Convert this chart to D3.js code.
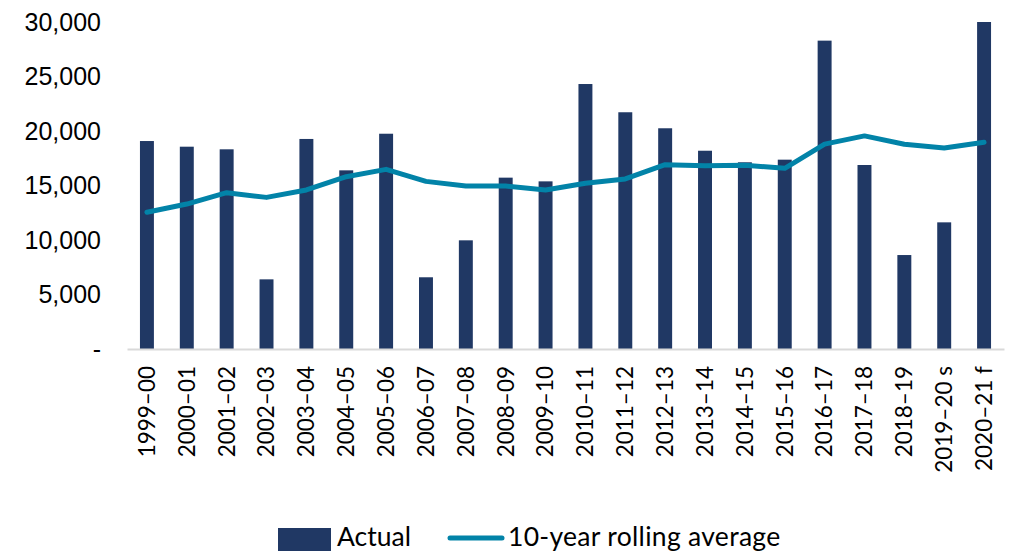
<!DOCTYPE html>
<html>
<head>
<meta charset="utf-8">
<script src="https://cdn.jsdelivr.net/npm/d3@7"></script>
<style>
  html, body { margin: 0; padding: 0; background: #fff; }
  svg { display: block; }
</style>
</head>
<body>
<svg id="chart" width="1012" height="551"></svg>
<script>
// Chart data
const categories = ['1999–00', '2000–01', '2001–02', '2002–03', '2003–04', '2004–05',
  '2005–06', '2006–07', '2007–08', '2008–09', '2009–10', '2010–11', '2011–12',
  '2012–13', '2013–14', '2014–15', '2015–16', '2016–17', '2017–18', '2018–19',
  '2019–20 s', '2020–21 f'];
const actual = [19080, 18560, 18320, 6390, 19270, 16390, 19750, 6580, 9970, 15720,
  15380, 24310, 21720, 20250, 18190, 17130, 17370, 28290, 16880, 8620, 11620, 30000];
const rollingAvg = [12540, 13300, 14340, 13910, 14590, 15810, 16480, 15380, 14950, 14950,
  14590, 15200, 15600, 16910, 16820, 16850, 16580, 18800, 19550, 18780, 18440, 18960];
const yTicks = [0, 5000, 10000, 15000, 20000, 25000, 30000];

const barColor = '#203864';
const lineColor = '#0283a8';

const svg = d3.select('#chart');

// Plot area
const plotLeft = 127, plotRight = 1004, plotTop = 22, plotBottom = 349;

const x = d3.scaleBand()
  .domain(categories)
  .range([plotLeft, plotRight])
  .paddingInner(0.65)
  .paddingOuter(0.325);

const y = d3.scaleLinear()
  .domain([0, 30000])
  .range([plotBottom, plotTop]);

// Y axis (labels only)
const yAxis = svg.append('g')
  .attr('transform', `translate(${plotLeft},0)`)
  .call(d3.axisLeft(y)
    .tickValues(yTicks)
    .tickSize(0)
    .tickPadding(26)
    .tickFormat(d => d === 0 ? '-' : d3.format(',')(d)));
yAxis.select('.domain').remove();
yAxis.selectAll('text')
  .attr('font-family', 'Liberation Sans, Arial, sans-serif')
  .attr('font-size', 25)
  .attr('fill', '#000');

// Bars
svg.append('g')
  .selectAll('rect')
  .data(actual)
  .join('rect')
  .attr('x', (d, i) => x(categories[i]))
  .attr('y', d => y(d))
  .attr('width', x.bandwidth())
  .attr('height', d => y(0) - y(d))
  .attr('fill', barColor);

// X axis
const xAxis = svg.append('g')
  .attr('transform', `translate(0,${plotBottom})`)
  .call(d3.axisBottom(x).tickSize(0));
xAxis.select('.domain')
  .attr('stroke', '#d9d9d9')
  .attr('stroke-width', 2);
xAxis.selectAll('text')
  .attr('font-family', 'Lato, sans-serif')
  .attr('font-size', 22.5)
  .attr('fill', '#000')
  .attr('transform', 'rotate(-90)')
  .attr('text-anchor', 'end')
  .attr('x', -17)
  .attr('y', 0)
  .attr('dy', '0.35em');

// Rolling average line
const line = d3.line()
  .x((d, i) => x(categories[i]) + x.bandwidth() / 2)
  .y(d => y(d));

svg.append('path')
  .datum(rollingAvg)
  .attr('d', line)
  .attr('fill', 'none')
  .attr('stroke', lineColor)
  .attr('stroke-width', 5)
  .attr('stroke-linejoin', 'round')
  .attr('stroke-linecap', 'round');

// Legend
const legend = svg.append('g')
  .attr('font-family', 'Lato, sans-serif')
  .attr('font-size', 26.5)
  .attr('fill', '#000');

legend.append('rect')
  .attr('x', 278).attr('y', 528)
  .attr('width', 53).attr('height', 23)
  .attr('fill', barColor);
legend.append('text')
  .attr('x', 337).attr('y', 546)
  .text('Actual');

legend.append('line')
  .attr('x1', 450).attr('x2', 502)
  .attr('y1', 538).attr('y2', 538)
  .attr('stroke', lineColor)
  .attr('stroke-width', 5)
  .attr('stroke-linecap', 'round');
legend.append('text')
  .attr('x', 508).attr('y', 546)
  .attr('letter-spacing', 0.3)
  .text('10-year rolling average');
</script>
</body>
</html>
